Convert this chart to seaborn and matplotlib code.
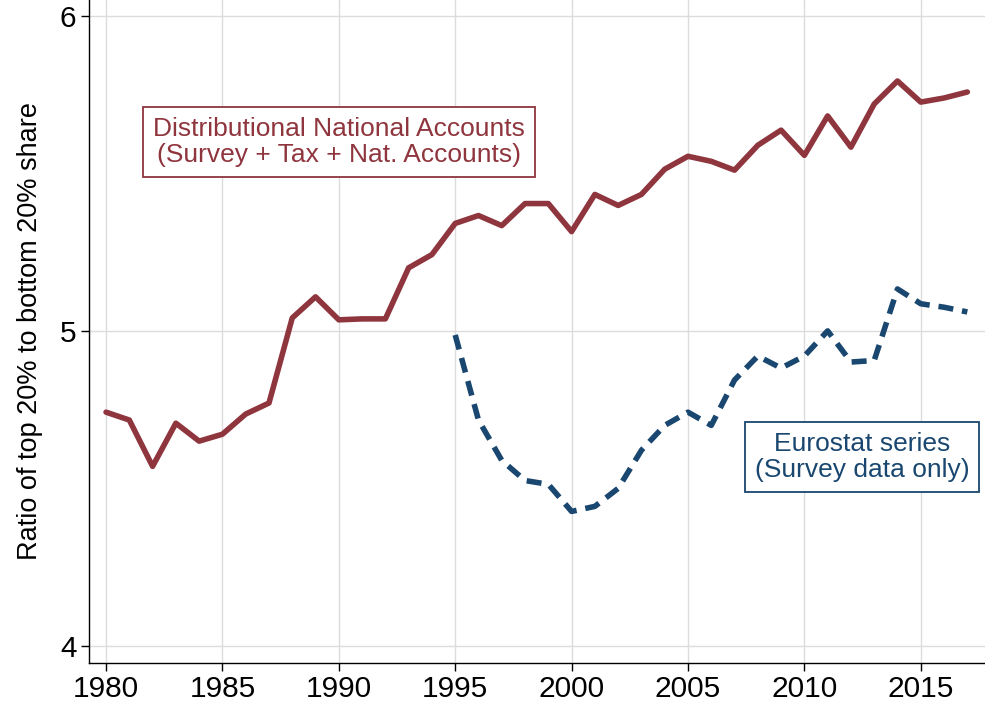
import numpy as np
import pandas as pd
import seaborn as sns
import matplotlib
matplotlib.use("Agg")
import matplotlib.pyplot as plt

sns.set_theme(style="whitegrid")
plt.rcParams['font.family'] = ['Liberation Sans', 'DejaVu Sans']

# DINA ratio, 1980-2017
years_dina = list(range(1980, 2018))
dina = [4.742, 4.717, 4.570, 4.707, 4.650, 4.672, 4.736, 4.771, 5.041, 5.108,
        5.035, 5.038, 5.038, 5.200, 5.242, 5.341, 5.366, 5.334, 5.404, 5.404,
        5.315, 5.433, 5.398, 5.433, 5.513, 5.554, 5.538, 5.510, 5.589, 5.637,
        5.557, 5.682, 5.583, 5.720, 5.793, 5.726, 5.739, 5.758]

# Eurostat ratio, 1995-2017
years_euro = list(range(1995, 2018))
eurostat = [4.987, 4.717, 4.589, 4.525, 4.513, 4.427, 4.443, 4.500, 4.621, 4.700,
            4.742, 4.700, 4.844, 4.920, 4.882, 4.920, 5.000, 4.901, 4.906, 5.133,
            5.086, 5.075, 5.060]

red = "#8f353d"
blue = "#1a476f"

df_dina = pd.DataFrame({"year": years_dina, "ratio": dina})
df_euro = pd.DataFrame({"year": years_euro, "ratio": eurostat})

fig, ax = plt.subplots(figsize=(9.85, 7.05), dpi=100)
fig.subplots_adjust(left=0.0904, right=1.0, bottom=0.0596, top=1.0)

sns.lineplot(data=df_dina, x="year", y="ratio", ax=ax, color=red, linewidth=4.0,
             solid_joinstyle="round", solid_capstyle="round")
sns.lineplot(data=df_euro, x="year", y="ratio", ax=ax, color=blue, linewidth=4.0,
             dashes=False)
ax.lines[-1].set_dashes([2.7, 1.6])
ax.lines[-1].set_dash_capstyle("butt")

ax.set_xlim(1979.27, 2017.76)
ax.set_ylim(3.946, 6.05)
ax.set_xticks(range(1980, 2016, 5))
ax.set_yticks([4, 5, 6])
ax.set_xlabel("")
ax.set_ylabel("Ratio of top 20% to bottom 20% share", fontsize=19.5, color="black", labelpad=12)
ax.tick_params(axis="both", which="major", labelsize=21.5, colors="black",
               length=6, width=1, direction="out", bottom=True, left=True, pad=3)

ax.grid(True, color="#dcdcdc", linewidth=1)
for s in ["top", "right"]:
    ax.spines[s].set_visible(False)
for s in ["left", "bottom"]:
    ax.spines[s].set_color("black")
    ax.spines[s].set_linewidth(1)

ax.text(1990.0, 5.60, "Distributional National Accounts\n(Survey + Tax + Nat. Accounts)",
        ha="center", va="center", fontsize=19, color=red, linespacing=1.12,
        bbox=dict(boxstyle="square,pad=0.38", facecolor="white", edgecolor=red, linewidth=1.3))
ax.text(2012.47, 4.60, "Eurostat series\n(Survey data only)",
        ha="center", va="center", fontsize=19, color=blue, linespacing=1.12,
        bbox=dict(boxstyle="square,pad=0.38", facecolor="white", edgecolor=blue, linewidth=1.3))

fig.savefig("out.png", dpi=100)
